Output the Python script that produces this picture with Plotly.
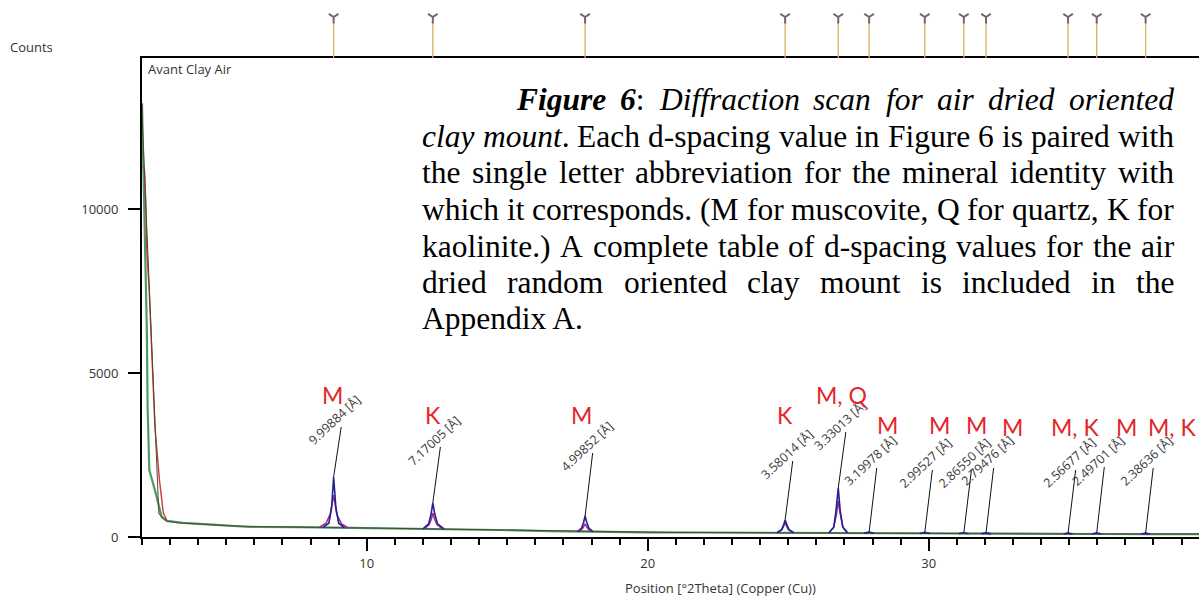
import plotly.graph_objects as go

# ---------------- data ----------------
# background / observed scan (2Theta, counts)
green_x = [2.00, 2.05, 2.11, 2.17, 2.20, 2.26, 2.46, 2.70, 2.88, 3.46, 4.66, 5.84, 7.62, 9.0, 11.2, 13.0,
           14.7, 16.5, 18.3, 20.0, 21.9, 23.5, 25.4, 27.0, 29.0, 31.0, 32.5, 34.0, 36.1, 38.0, 39.62]
green_y = [13220, 11490, 8840, 6400, 3960, 2040, 1430, 610, 490, 430, 370, 305, 300, 285, 244, 225,
           213, 180, 150, 140, 137, 130, 122, 118, 107, 100, 91, 91, 91, 90, 90]

obs_x = [2.00, 2.02, 2.6, 2.9, 3.3, 3.8, 4.4, 5.0, 5.6, 6.2, 6.9, 7.5, 8.2, 9.6, 10.4, 11.0, 11.8, 13.2,
         14.0, 15.1, 16.2, 17.0, 18.6, 19.5, 20.8, 22.0, 23.1, 24.2, 25.6, 26.2, 27.3, 28.6, 29.4,
         30.6, 31.6, 32.6, 33.5, 34.4, 35.4, 36.6, 37.3, 38.3, 39.0, 39.62]
obs_y = [13230, 12500, 700, 480, 430, 400, 385, 345, 330, 320, 300, 310, 290, 280, 270, 255, 240, 230,
         220, 215, 200, 180, 150, 140, 138, 135, 130, 126, 122, 120, 117, 112, 105,
         102, 98, 95, 92, 92, 91, 92, 90, 95, 90, 92]

red_x = [2.04, 2.09, 2.13, 2.17, 2.26, 2.35, 2.46, 2.62, 2.76, 2.88]
red_y = [11300, 11190, 10270, 8750, 7440, 5400, 3350, 1740, 730, 520]

# fitted peak profiles (None separates peaks)
navy_x = [8.45, 8.65, 8.75, 8.82, 8.90, 9.00, 9.20, None,
          12.00, 12.20, 12.29, 12.35, 12.42, 12.52, 12.75, None,
          17.50, 17.65, 17.72, 17.77, 17.83, 17.90, 18.05, None,
          24.60, 24.76, 24.84, 24.89, 24.95, 25.03, 25.20, None,
          26.45, 26.62, 26.70, 26.78, 26.85, 26.94, 27.10, None,
          27.70, 27.88, 28.05, None, 29.68, 29.86, 30.04, None, 31.08, 31.25, 31.42, None,
          31.87, 32.04, 32.21, None, 34.80, 34.96, 35.12, None, 35.81, 35.98, 36.15, None,
          37.56, 37.72, 37.88]
navy_y = [300, 420, 900, 1830, 900, 420, 290, None,
          250, 400, 700, 1040, 700, 400, 250, None,
          160, 280, 450, 640, 450, 280, 160, None,
          130, 220, 380, 520, 380, 220, 130, None,
          130, 300, 800, 1490, 800, 300, 130, None,
          118, 150, 116, None, 108, 140, 106, None, 102, 130, 100, None,
          98, 125, 96, None, 93, 120, 93, None, 92, 130, 92, None,
          92, 118, 92]

magenta_x = [8.30, 8.55, 8.70, 8.82, 8.93, 9.10, 9.35, None,
             12.05, 12.22, 12.30, 12.35, 12.41, 12.50, 12.68, None,
             17.55, 17.68, 17.77, 17.86, 18.00, None,
             24.62, 24.78, 24.89, 25.00, 25.17, None,
             26.45, 26.62, 26.72, 26.78, 26.85, 26.95, 27.12, None,
             31.90, 32.04, 32.18, None, 34.82, 34.96, 35.10, None, 37.58, 37.72, 37.86]
magenta_y = [290, 420, 700, 1280, 700, 400, 280, None,
             250, 380, 550, 730, 550, 380, 250, None,
             160, 260, 400, 260, 160, None,
             130, 230, 430, 230, 130, None,
             130, 300, 700, 1100, 700, 300, 130, None,
             97, 115, 96, None, 92, 112, 92, None, 92, 110, 92]

peak_pos = [8.82, 12.35, 17.77, 24.89, 26.78, 27.88, 29.86, 31.25, 32.04, 34.96, 35.98, 37.72]
orange_top = [420, 330, 230, 210, 380, 160, 160, 150, 120, 110, 170, 105]
peak_top = [1830, 1040, 640, 520, 1490, 150, 140, 130, 125, 120, 130, 118]
label_y = [3354, 2744, 2561, 2317, 3201, 2104, 2043, 2043, 2104, 2043, 2134, 2104]
d_labels = ["9.99884 [Å]", "7.17005 [Å]", "4.99852 [Å]", "3.58014 [Å]", "3.33013 [Å]",
            "3.19978 [Å]", "2.99527 [Å]", "2.86550 [Å]", "2.79476 [Å]", "2.56677 [Å]",
            "2.49701 [Å]", "2.38636 [Å]"]
minerals = ["M", "K", "M", "K", "M, Q", "M", "M", "M", "M", "M, K", "M", "M, K"]
mineral_x = [8.79, 12.35, 17.65, 24.88, 26.90, 28.54, 30.39, 31.71, 32.99, 35.20, 37.05, 38.65]
mineral_y = [4329, 3720, 3720, 3720, 4329, 3415, 3415, 3415, 3354, 3354, 3354, 3354]

x_ticks = [10, 20, 30]
y_ticks = [0, 5000, 10000]

caption_lines = [
    [[("Figure", "bi")], [("6", "bi"), (":", "r")], [("Diffraction", "i")], [("scan", "i")],
     [("for", "i")], [("air", "i")], [("dried", "i")], [("oriented", "i")]],
    [[("clay", "i")], [("mount", "i"), (".", "r")]] + [[(w, "r")] for w in
        "Each d-spacing value in Figure 6 is paired with".split()],
    [[(w, "r")] for w in "the single letter abbreviation for the mineral identity with".split()],
    [[(w, "r")] for w in "which it corresponds. (M for muscovite, Q for quartz, K for".split()],
    [[(w, "r")] for w in "kaolinite.) A complete table of d-spacing values for the air".split()],
    [[(w, "r")] for w in "dried random oriented clay mount is included in the".split()],
    [[("Appendix A.", "r")]],
]

# ---------------- layout helpers ----------------
W, H = 1199, 596
L, R, T, B = 142, 0, 5, 59
def px(x):
    return (x - L) / (W - L - R)
def py(y):
    return (H - B - y) / (H - B - T)

TR = {' ': 250, '(': 333, ')': 333, ',': 250, '-': 333, '.': 250, ':': 278, '6': 500,
      'A': 722, 'E': 611, 'F': 556, 'K': 722, 'M': 889, 'Q': 722,
      'a': 444, 'b': 500, 'c': 444, 'd': 500, 'e': 444, 'f': 333, 'g': 500, 'h': 500, 'i': 278,
      'k': 500, 'l': 278, 'm': 778, 'n': 500, 'o': 500, 'p': 500, 'q': 500, 'r': 333, 's': 389,
      't': 278, 'u': 500, 'v': 500, 'w': 722, 'x': 500, 'y': 500, 'z': 444}
TI = {'D': 722, 'a': 500, 'c': 444, 'd': 500, 'e': 444, 'f': 278, 'i': 278, 'l': 278, 'm': 722,
      'n': 500, 'o': 500, 'r': 389, 's': 389, 't': 278, 'u': 500, 'y': 444}
TBI = {'F': 667, 'i': 278, 'g': 500, 'u': 556, 'r': 389, 'e': 444, '6': 500}
FS = 31.5

def seg_width(text, style):
    table = {"r": TR, "i": TI, "bi": TBI}[style]
    return sum(table.get(c, 500) for c in text) * FS / 1000.0

def seg_html(text, style):
    if style == "i":
        return "<i>" + text + "</i>"
    if style == "bi":
        return "<b><i>" + text + "</i></b>"
    return text

fig = go.Figure()

fig.add_trace(go.Scatter(x=green_x, y=green_y, mode="lines", line=dict(color="#4d9a68", width=2.2),
                         hoverinfo="skip"))
fig.add_trace(go.Scatter(x=red_x, y=red_y, mode="lines", line=dict(color="#cc3b3b", width=1.4),
                         hoverinfo="skip"))
fig.add_trace(go.Scatter(x=obs_x, y=obs_y, mode="lines", line=dict(color="#4b4a32", width=1),
                         hoverinfo="skip"))
fig.add_trace(go.Scatter(x=magenta_x, y=magenta_y, mode="lines", line=dict(color="#a8288c", width=1.5),
                         hoverinfo="skip"))
fig.add_trace(go.Scatter(x=navy_x, y=navy_y, mode="lines", line=dict(color="#23238f", width=1.6),
                         hoverinfo="skip"))

# orange reference bumps
ox, oy = [], []
for p, t in zip(peak_pos, orange_top):
    ox += [p - 0.1, p, p + 0.1, None]
    oy += [0, t, 0, None]
fig.add_trace(go.Scatter(x=ox, y=[v if v != 0 else None for v in oy], mode="lines",
                         line=dict(color="#f0a030", width=1.3), hoverinfo="skip"))

# leader lines
lx, ly = [], []
for p, t, ylab in zip(peak_pos, peak_top, label_y):
    lx += [p, p + 0.27, None]
    ly += [t, ylab, None]
fig.add_trace(go.Scatter(x=lx, y=ly, mode="lines", line=dict(color="#111111", width=1),
                         hoverinfo="skip"))

# top stick pattern
sx, sy = [], []
for p in peak_pos:
    sx += [p, p, None]
    sy += [0, 36, None]
fig.add_trace(go.Scatter(x=sx, y=sy, mode="lines", line=dict(color="#dcae62", width=1.3),
                         yaxis="y2", hoverinfo="skip"))
fig.add_trace(go.Scatter(x=peak_pos, y=[41] * len(peak_pos), mode="markers", yaxis="y2",
                         marker=dict(symbol="y-down", size=8, line=dict(color="#6a6a6a", width=2)),
                         hoverinfo="skip"))

ann = []
for p, ylab, txt in zip(peak_pos, label_y, d_labels):
    ann.append(dict(x=p + 0.27, y=ylab, xref="x", yref="y", text=txt, showarrow=False,
                    textangle=-43, xanchor="center", yanchor="middle", xshift=-6, yshift=7,
                    font=dict(family="Open Sans", size=12.5, color="#3a3a3a")))
for mx, my, txt in zip(mineral_x, mineral_y, minerals):
    ann.append(dict(x=mx, y=my, xref="x", yref="y", text=txt, showarrow=False,
                    xanchor="center", yanchor="middle",
                    font=dict(family="Lato", size=23, color="#e3262a")))

ann.append(dict(x=px(31), y=py(47), xref="paper", yref="paper", text="Counts", showarrow=False,
                xanchor="center", yanchor="middle", font=dict(family="Open Sans", size=13, color="#333")))
ann.append(dict(x=px(146), y=py(69), xref="paper", yref="paper", text="Avant Clay Air", showarrow=False,
                xanchor="left", yanchor="middle", font=dict(family="Open Sans", size=13, color="#333")))
ann.append(dict(x=px(720), y=py(588), xref="paper", yref="paper", text="Position [°2Theta] (Copper (Cu))",
                showarrow=False, xanchor="center", yanchor="middle",
                font=dict(family="Open Sans", size=13, color="#333")))

# caption (justified, word by word)
baselines = [110.3, 146.7, 183.3, 220.0, 256.7, 292.7, 329.0]
left_edges = [515, 421, 421, 421, 421, 421, 421]
right_edge = 1173
for i, words in enumerate(caption_lines):
    widths = [sum(seg_width(t, s) for t, s in w) for w in words]
    if len(words) > 1 and i < len(caption_lines) - 1:
        gap = (right_edge - left_edges[i] - sum(widths)) / (len(words) - 1)
    else:
        gap = 0
    xcur = left_edges[i]
    yc = baselines[i] - 0.3375 * FS
    for w, wd in zip(words, widths):
        ann.append(dict(x=px(xcur), y=py(yc), xref="paper", yref="paper",
                        text="".join(seg_html(t, s) for t, s in w), showarrow=False,
                        xanchor="left", yanchor="middle", borderpad=0,
                        font=dict(family="Liberation Serif", size=FS, color="#000")))
        xcur += wd + gap

tickfont = dict(family="Open Sans", size=13, color="#333")
dom_top = (H - B - 58) / (H - B - T)
fig.update_layout(
    width=W, height=H, margin=dict(l=L, r=R, t=T, b=B),
    paper_bgcolor="white", plot_bgcolor="white", showlegend=False,
    xaxis=dict(range=[2.0, 39.62], showline=True, linecolor="black", linewidth=2, mirror=True,
               ticks="outside", tickvals=x_ticks, ticklen=12, tickwidth=1.5, tickcolor="black",
               minor=dict(dtick=1, tick0=0, ticks="outside", ticklen=6, tickwidth=1.5, tickcolor="black"),
               showgrid=False, zeroline=False, tickfont=tickfont, ticklabelstandoff=1),
    yaxis=dict(domain=[0, dom_top], range=[0, 14604], showline=True, linecolor="black", linewidth=2,
               ticks="outside", tickvals=y_ticks, ticklen=12, tickwidth=1.5, tickcolor="black",
               showgrid=False, zeroline=False, tickformat="d", tickfont=tickfont, ticklabelstandoff=7),
    yaxis2=dict(domain=[dom_top, 1], range=[0, 53], visible=False, anchor="x"),
    annotations=ann,
)

fig.write_html("out.html")
